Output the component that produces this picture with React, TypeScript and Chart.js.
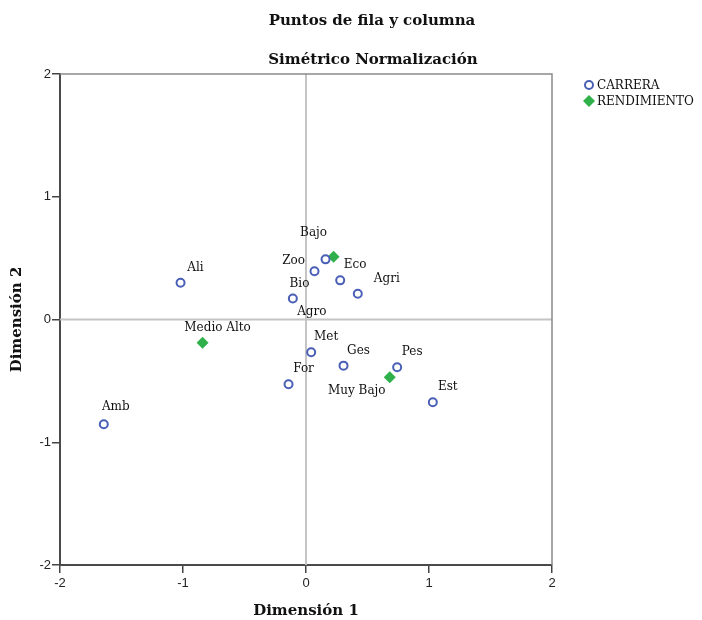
import React, { useEffect, useRef } from "react";
import { Chart, registerables } from "chart.js";

Chart.register(...registerables);

// ---- Data ----
const carreraLabels = ["Ali", "Amb", "Zoo", "Bio", "Eco", "Agri", "Agro", "Met", "Ges", "Pes", "For", "Est"];
const carreraX = [-1.02, -1.644, 0.159, 0.069, 0.278, 0.421, -0.107, 0.042, 0.305, 0.741, -0.142, 1.031];
const carreraY = [0.3, -0.854, 0.49, 0.393, 0.319, 0.21, 0.171, -0.267, -0.376, -0.389, -0.528, -0.674];

const rendLabels = ["Bajo", "Medio Alto", "Muy Bajo"];
const rendX = [0.224, -0.841, 0.681];
const rendY = [0.512, -0.189, -0.471];

const axisMin = -2;
const axisMax = 2;
const tickStep = 1;

const chartTitle = "Puntos de fila y columna";
const chartSubtitle = "Simétrico Normalización";
const xTitle = "Dimensión 1";
const yTitle = "Dimensión 2";
const seriesNames = ["CARRERA", "RENDIMIENTO"];

// label placement offsets (px) relative to each point; default above-right
const defaultOffset: [number, number] = [15, -15];
const labelOffsets: Record<string, [number, number]> = {
  Bajo: [-20, -24],
  Zoo: [-32, 2],
  Bio: [-15, 13],
  Agro: [19, 13],
  Agri: [29, -15],
  Amb: [12, -17],
  "Muy Bajo": [-33, 14],
};

const SERIF = "'DejaVu Serif', 'Liberation Serif', serif";
const SANS = "'Liberation Sans', Arial, sans-serif";
const BLUE = "#4a5fb6";
const GREEN = "#2fb04a";

const overlay = {
  id: "overlay",
  beforeDatasetsDraw(chart: any) {
    const { ctx, chartArea, scales } = chart;
    const x0 = scales.x.getPixelForValue(0);
    const y0 = scales.y.getPixelForValue(0);
    ctx.save();
    ctx.strokeStyle = "#c4c4c4";
    ctx.lineWidth = 2;
    ctx.beginPath();
    ctx.moveTo(x0, chartArea.top);
    ctx.lineTo(x0, chartArea.bottom);
    ctx.moveTo(chartArea.left, y0);
    ctx.lineTo(chartArea.right, y0);
    ctx.stroke();
    ctx.restore();
  },
  afterDraw(chart: any) {
    const { ctx, chartArea, scales } = chart;
    ctx.save();
    // frame top & right
    ctx.strokeStyle = "#8a8a8a";
    ctx.lineWidth = 1.5;
    ctx.beginPath();
    ctx.moveTo(chartArea.left, chartArea.top);
    ctx.lineTo(chartArea.right, chartArea.top);
    ctx.lineTo(chartArea.right, chartArea.bottom);
    ctx.stroke();

    // point labels
    ctx.fillStyle = "#111";
    ctx.font = `12px ${SERIF}`;
    ctx.textAlign = "center";
    ctx.textBaseline = "middle";
    const drawLabels = (labels: string[], xs: number[], ys: number[]) => {
      labels.forEach((l, i) => {
        const px = scales.x.getPixelForValue(xs[i]);
        const py = scales.y.getPixelForValue(ys[i]);
        const off = labelOffsets[l] || defaultOffset;
        ctx.fillText(l, px + off[0], py + off[1]);
      });
    };
    drawLabels(carreraLabels, carreraX, carreraY);
    drawLabels(rendLabels, rendX, rendY);

    // titles
    ctx.font = `bold 15px ${SERIF}`;
    ctx.fillText(chartTitle, 372, 21);
    ctx.fillText(chartSubtitle, 373, 60);
    const cx = (chartArea.left + chartArea.right) / 2;
    ctx.fillText(xTitle, cx, 611);
    ctx.save();
    ctx.translate(17, (chartArea.top + chartArea.bottom) / 2);
    ctx.rotate(-Math.PI / 2);
    ctx.fillText(yTitle, 0, 0);
    ctx.restore();

    // legend
    const lx = chartArea.right + 37;
    ctx.lineWidth = 2;
    ctx.strokeStyle = BLUE;
    ctx.fillStyle = "#fff";
    ctx.beginPath();
    ctx.arc(lx, 85, 4, 0, Math.PI * 2);
    ctx.fill();
    ctx.stroke();
    ctx.fillStyle = GREEN;
    ctx.beginPath();
    ctx.moveTo(lx, 95);
    ctx.lineTo(lx + 6, 101);
    ctx.lineTo(lx, 107);
    ctx.lineTo(lx - 6, 101);
    ctx.closePath();
    ctx.fill();
    ctx.fillStyle = "#111";
    ctx.font = `12px ${SERIF}`;
    ctx.textAlign = "left";
    ctx.fillText(seriesNames[0], lx + 8, 86);
    ctx.fillText(seriesNames[1], lx + 8, 102);
    ctx.restore();
  },
};

export default function App() {
  const ref = useRef<HTMLCanvasElement | null>(null);
  useEffect(() => {
    if (!ref.current) return;
    const scaleCommon = (isY: boolean) => ({
      type: "linear" as const,
      min: axisMin,
      max: axisMax,
      ticks: {
        stepSize: tickStep,
        color: "#222",
        font: { family: SANS, size: 13 },
        padding: isY ? 1 : 3,
      },
      grid: {
        display: true,
        drawOnChartArea: false,
        drawTicks: true,
        tickLength: 8,
        color: "#444",
        lineWidth: 1.5,
      },
      border: { display: true, color: "#4a4a4a", width: 2 },
      afterFit: (scale: any) => {
        if (isY) scale.width = 60;
        else scale.height = 55;
      },
    });
    const chart = new Chart(ref.current, {
      type: "scatter",
      data: {
        datasets: [
          {
            label: seriesNames[0],
            data: carreraX.map((x, i) => ({ x, y: carreraY[i] })),
            pointStyle: "circle",
            pointRadius: 4,
            pointBorderWidth: 2,
            borderColor: BLUE,
            backgroundColor: "#ffffff",
          },
          {
            label: seriesNames[1],
            data: rendX.map((x, i) => ({ x, y: rendY[i] })),
            pointStyle: "rectRot",
            pointRadius: 6,
            pointBorderWidth: 0,
            borderColor: GREEN,
            backgroundColor: GREEN,
          },
        ],
      },
      options: {
        animation: false,
        responsive: false,
        devicePixelRatio: 1,
        layout: { padding: { top: 74, right: 150, left: 0, bottom: 0 } },
        plugins: {
          legend: { display: false },
          title: { display: false },
          tooltip: { enabled: false },
        },
        scales: {
          x: scaleCommon(false) as any,
          y: scaleCommon(true) as any,
        },
      },
      plugins: [overlay],
    });
    return () => chart.destroy();
  }, []);
  return (
    <div style={{ position: "absolute", left: 0, top: 0, width: 702, height: 620, background: "#fff" }}>
      <canvas ref={ref} width={702} height={620} />
    </div>
  );
}
